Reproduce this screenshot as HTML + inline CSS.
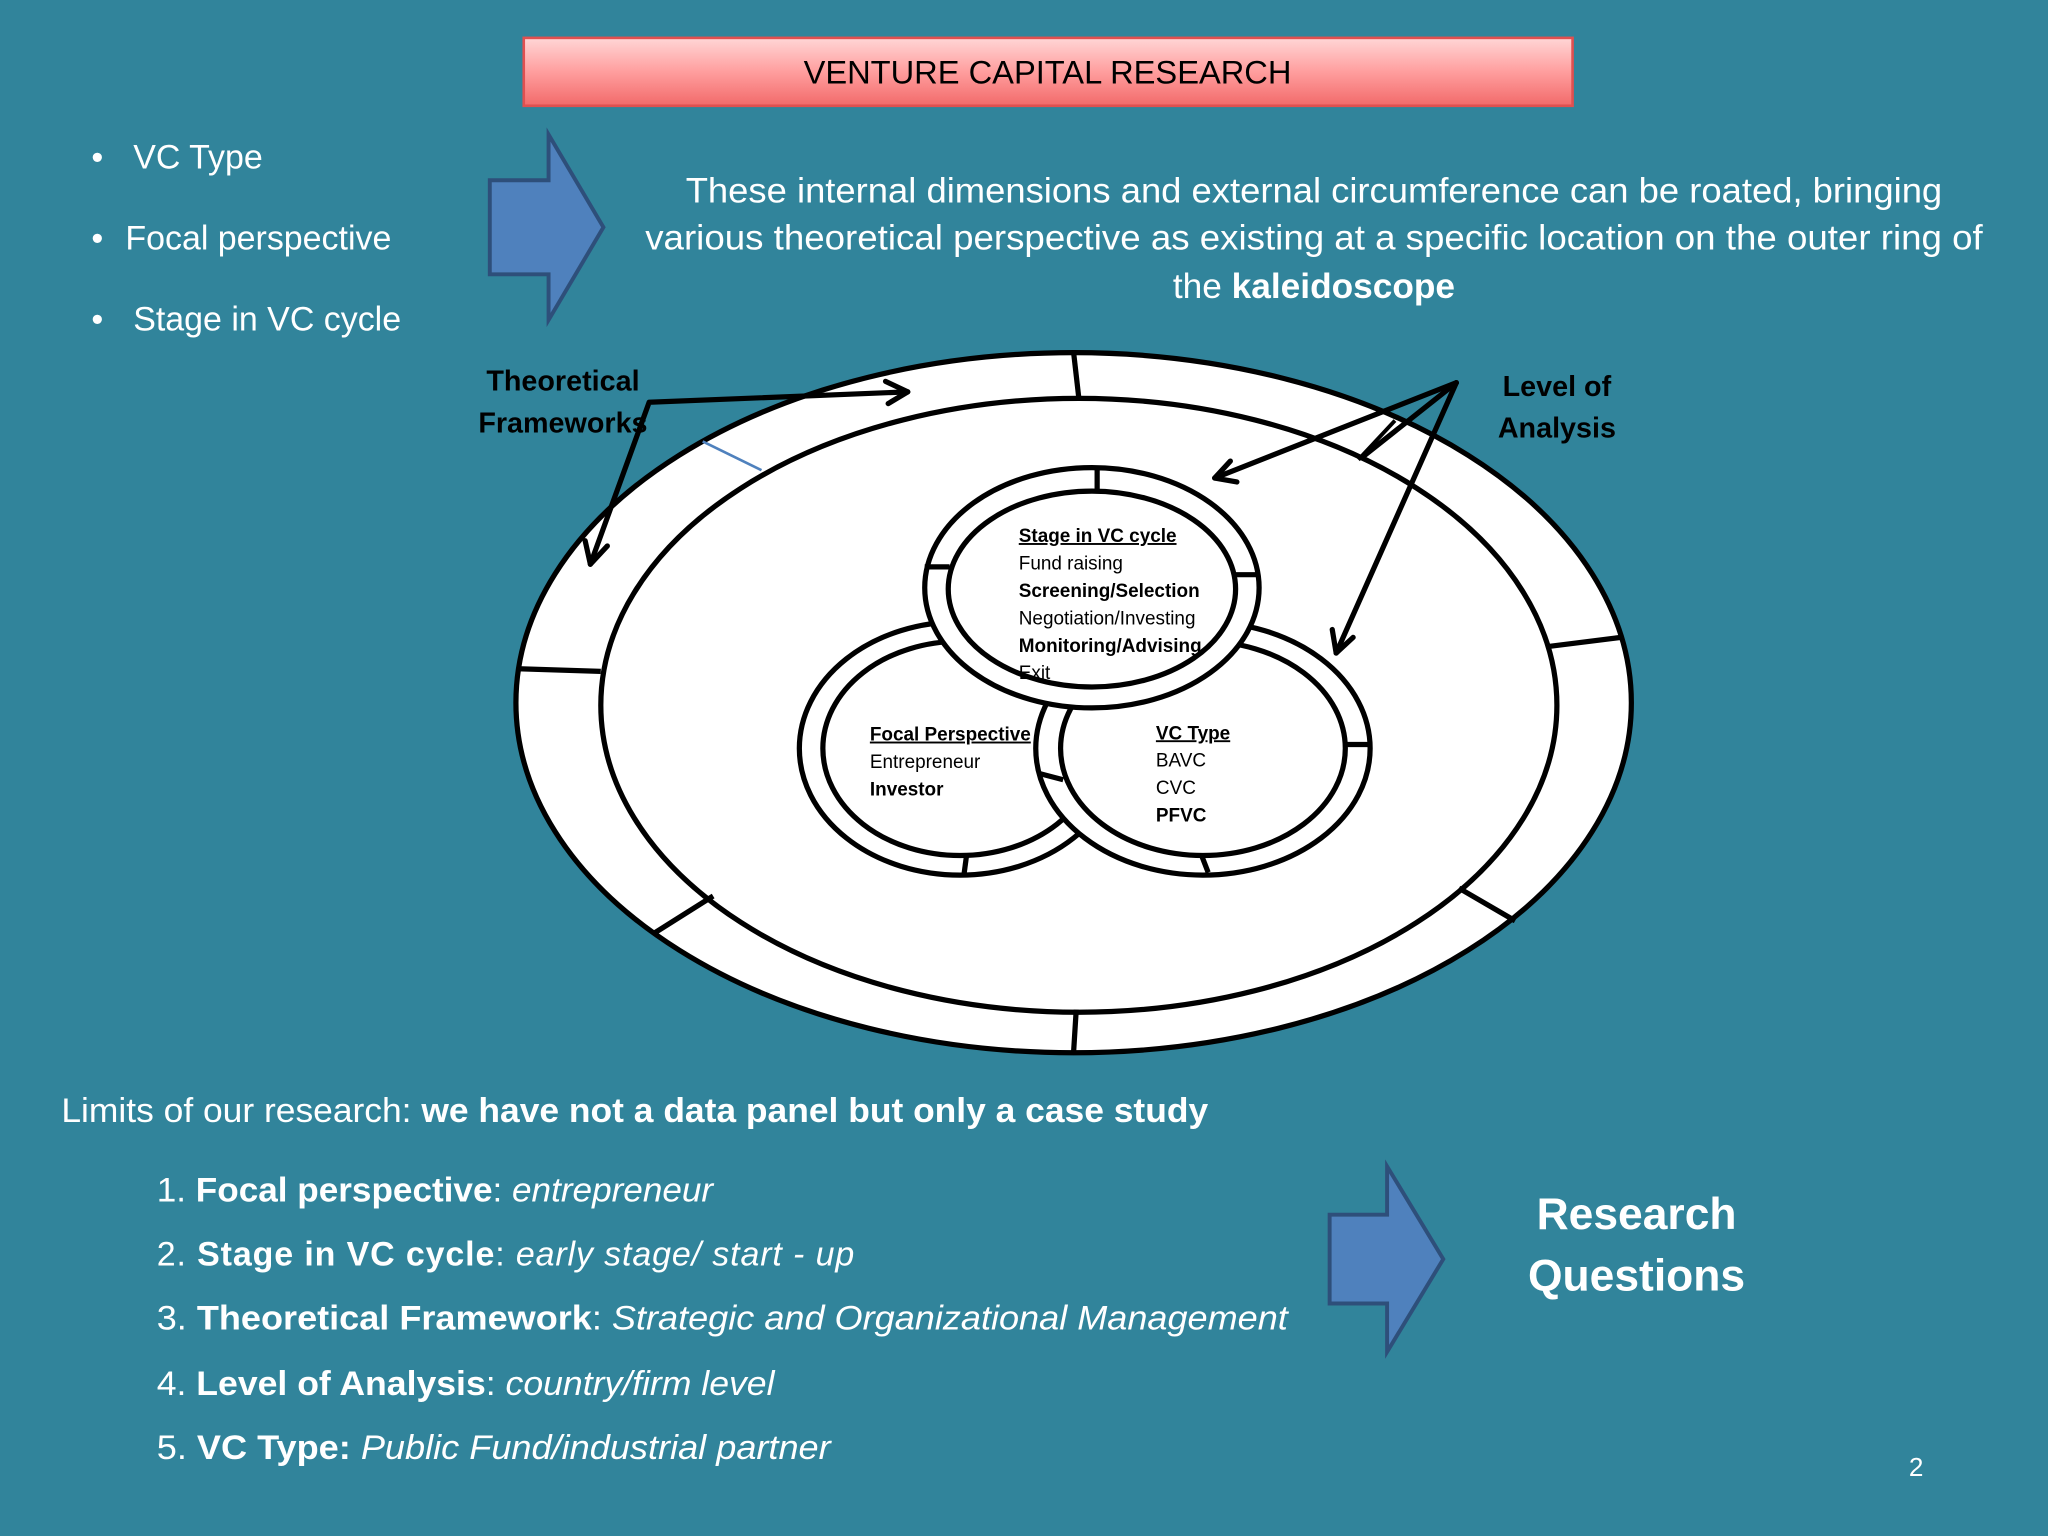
<!DOCTYPE html>
<html><head><meta charset="utf-8"><style>
html,body{margin:0;padding:0;background:#31849B;}
svg{display:block;}
text{font-family:"Liberation Sans",sans-serif;}
</style></head><body>
<svg width="2048" height="1536" viewBox="0 0 1568 1176" xmlns="http://www.w3.org/2000/svg">
<defs>
<linearGradient id="tg" x1="0" y1="0" x2="0" y2="1">
<stop offset="0" stop-color="#FFD6D6"/><stop offset="0.5" stop-color="#FF9E9E"/><stop offset="1" stop-color="#F26A6A"/>
</linearGradient>
</defs>
<rect width="1568" height="1176" fill="#31849B"/>
<rect x="401" y="29" width="803" height="52" fill="url(#tg)" stroke="#E05050" stroke-width="2"/>
<text x="802" y="64" font-size="25" text-anchor="middle" fill="#000">VENTURE CAPITAL RESEARCH</text>

<g fill="#fff" font-size="26">
<text x="70" y="129">•</text><text x="102" y="129">VC Type</text>
<text x="70" y="191">•</text><text x="96" y="191">Focal perspective</text>
<text x="70" y="253">•</text><text x="102" y="253">Stage in VC cycle</text>
</g>
<polygon points="375,138 420,138 420,103 462,174 420,245 420,210 375,210" fill="#4F81BD" stroke="#2E4F7A" stroke-width="3"/>
<polygon points="1018,930 1062,930 1062,893 1105,964 1062,1035 1062,998 1018,998" fill="#4F81BD" stroke="#2E4F7A" stroke-width="3"/>

<g fill="#fff" font-size="27" text-anchor="middle">
<text x="1006" y="155" textLength="962" lengthAdjust="spacingAndGlyphs">These internal dimensions and external circumference can be roated, bringing</text>
<text x="1006" y="191" textLength="1024" lengthAdjust="spacingAndGlyphs">various theoretical perspective as existing at a specific location on the outer ring of</text>
<text x="1006" y="228">the <tspan font-weight="bold">kaleidoscope</tspan></text>
</g>

<ellipse cx="822" cy="538" rx="427" ry="268" fill="#fff" stroke="#000" stroke-width="4"/>
<ellipse cx="826" cy="540" rx="366" ry="235" fill="#fff" stroke="#000" stroke-width="4"/>
<g stroke="#000" stroke-width="4">
<line x1="822" y1="270" x2="826" y2="305"/>
<line x1="397" y1="512" x2="460" y2="514"/>
<line x1="1185" y1="495" x2="1241" y2="488"/>
<line x1="500" y1="715" x2="546" y2="686"/>
<line x1="1117" y1="680" x2="1160" y2="705"/>
<line x1="824" y1="773" x2="822" y2="805"/>
<line x1="1040" y1="352" x2="1068" y2="322" stroke-width="3"/>
</g>
<line x1="538" y1="338" x2="583" y2="360" stroke="#4F81BD" stroke-width="2"/>

<ellipse cx="735" cy="573" rx="123" ry="97" fill="#fff" stroke="#000" stroke-width="4"/>
<ellipse cx="735" cy="573" rx="105" ry="82" fill="#fff" stroke="#000" stroke-width="4"/>
<line x1="740" y1="655" x2="738" y2="670" stroke="#000" stroke-width="4"/>
<ellipse cx="921" cy="573" rx="128" ry="97" fill="#fff" stroke="#000" stroke-width="4"/>
<ellipse cx="921" cy="573" rx="109" ry="82" fill="#fff" stroke="#000" stroke-width="4"/>
<g stroke="#000" stroke-width="4">
<line x1="1030" y1="570" x2="1049" y2="570"/>
<line x1="920" y1="655" x2="925" y2="668"/>
<line x1="795" y1="592" x2="814" y2="597"/>
</g>
<ellipse cx="836" cy="450" rx="128" ry="92" fill="#fff" stroke="#000" stroke-width="4"/>
<ellipse cx="836" cy="451" rx="110" ry="75" fill="#fff" stroke="#000" stroke-width="4"/>
<g stroke="#000" stroke-width="4">
<line x1="840" y1="358" x2="840" y2="376"/>
<line x1="708" y1="434" x2="727" y2="434"/>
<line x1="945" y1="440" x2="964" y2="440"/>
</g>

<g font-size="14.5" fill="#000">
<text x="780" y="415" font-weight="bold" text-decoration="underline">Stage in VC cycle</text>
<text x="780" y="436">Fund raising</text>
<text x="780" y="457" font-weight="bold">Screening/Selection</text>
<text x="780" y="478">Negotiation/Investing</text>
<text x="780" y="499" font-weight="bold">Monitoring/Advising</text>
<text x="780" y="520">Exit</text>
<text x="666" y="567" font-weight="bold" text-decoration="underline">Focal Perspective</text>
<text x="666" y="588">Entrepreneur</text>
<text x="666" y="609" font-weight="bold">Investor</text>
<text x="885" y="566" font-weight="bold" text-decoration="underline">VC Type</text>
<text x="885" y="587">BAVC</text>
<text x="885" y="608">CVC</text>
<text x="885" y="629" font-weight="bold">PFVC</text>
</g>

<g stroke="#000" stroke-width="4" fill="none" stroke-linecap="round" stroke-linejoin="round">
<polyline points="695,300 497,308 452,432"/>
<polyline points="678,292 695,300 680,309"/>
<polyline points="448,414 452,432 465,418"/>
<line x1="1115" y1="293" x2="930" y2="366"/>
<polyline points="942,353 930,366 947,369"/>
<line x1="1115" y1="293" x2="1023" y2="500"/>
<polyline points="1020,482 1023,500 1036,488"/>
<line x1="1115" y1="293" x2="1043" y2="350"/>
</g>

<g font-size="22" font-weight="bold" fill="#000" text-anchor="middle">
<text x="431" y="299">Theoretical</text>
<text x="431" y="331">Frameworks</text>
<text x="1192" y="303">Level of</text>
<text x="1192" y="335">Analysis</text>
</g>

<g fill="#fff" font-size="26">
<text x="47" y="859" textLength="878" lengthAdjust="spacingAndGlyphs">Limits of our research:  <tspan font-weight="bold">we have not a data panel but only a case study</tspan></text>
<text x="120" y="920" textLength="426" lengthAdjust="spacingAndGlyphs">1. <tspan font-weight="bold">Focal perspective</tspan>: <tspan font-style="italic">entrepreneur</tspan></text>
<text x="120" y="969" textLength="534" lengthAdjust="spacing">2. <tspan font-weight="bold">Stage in VC cycle</tspan>:   <tspan font-style="italic">early stage/ start - up</tspan></text>
<text x="120" y="1018" textLength="866" lengthAdjust="spacingAndGlyphs">3. <tspan font-weight="bold">Theoretical Framework</tspan>: <tspan font-style="italic">Strategic and Organizational Management</tspan></text>
<text x="120" y="1068" textLength="473" lengthAdjust="spacingAndGlyphs">4. <tspan font-weight="bold">Level of Analysis</tspan>: <tspan font-style="italic">country/firm level</tspan></text>
<text x="120" y="1117" textLength="516" lengthAdjust="spacingAndGlyphs">5. <tspan font-weight="bold">VC Type:</tspan> <tspan font-style="italic">Public Fund/industrial partner</tspan></text>
</g>
<g fill="#fff" font-size="34" font-weight="bold" text-anchor="middle">
<text x="1253" y="941">Research</text>
<text x="1253" y="988">Questions</text>
</g>
<text x="1467" y="1130" font-size="20" fill="#fff" text-anchor="middle">2</text>
</svg>
</body></html>
